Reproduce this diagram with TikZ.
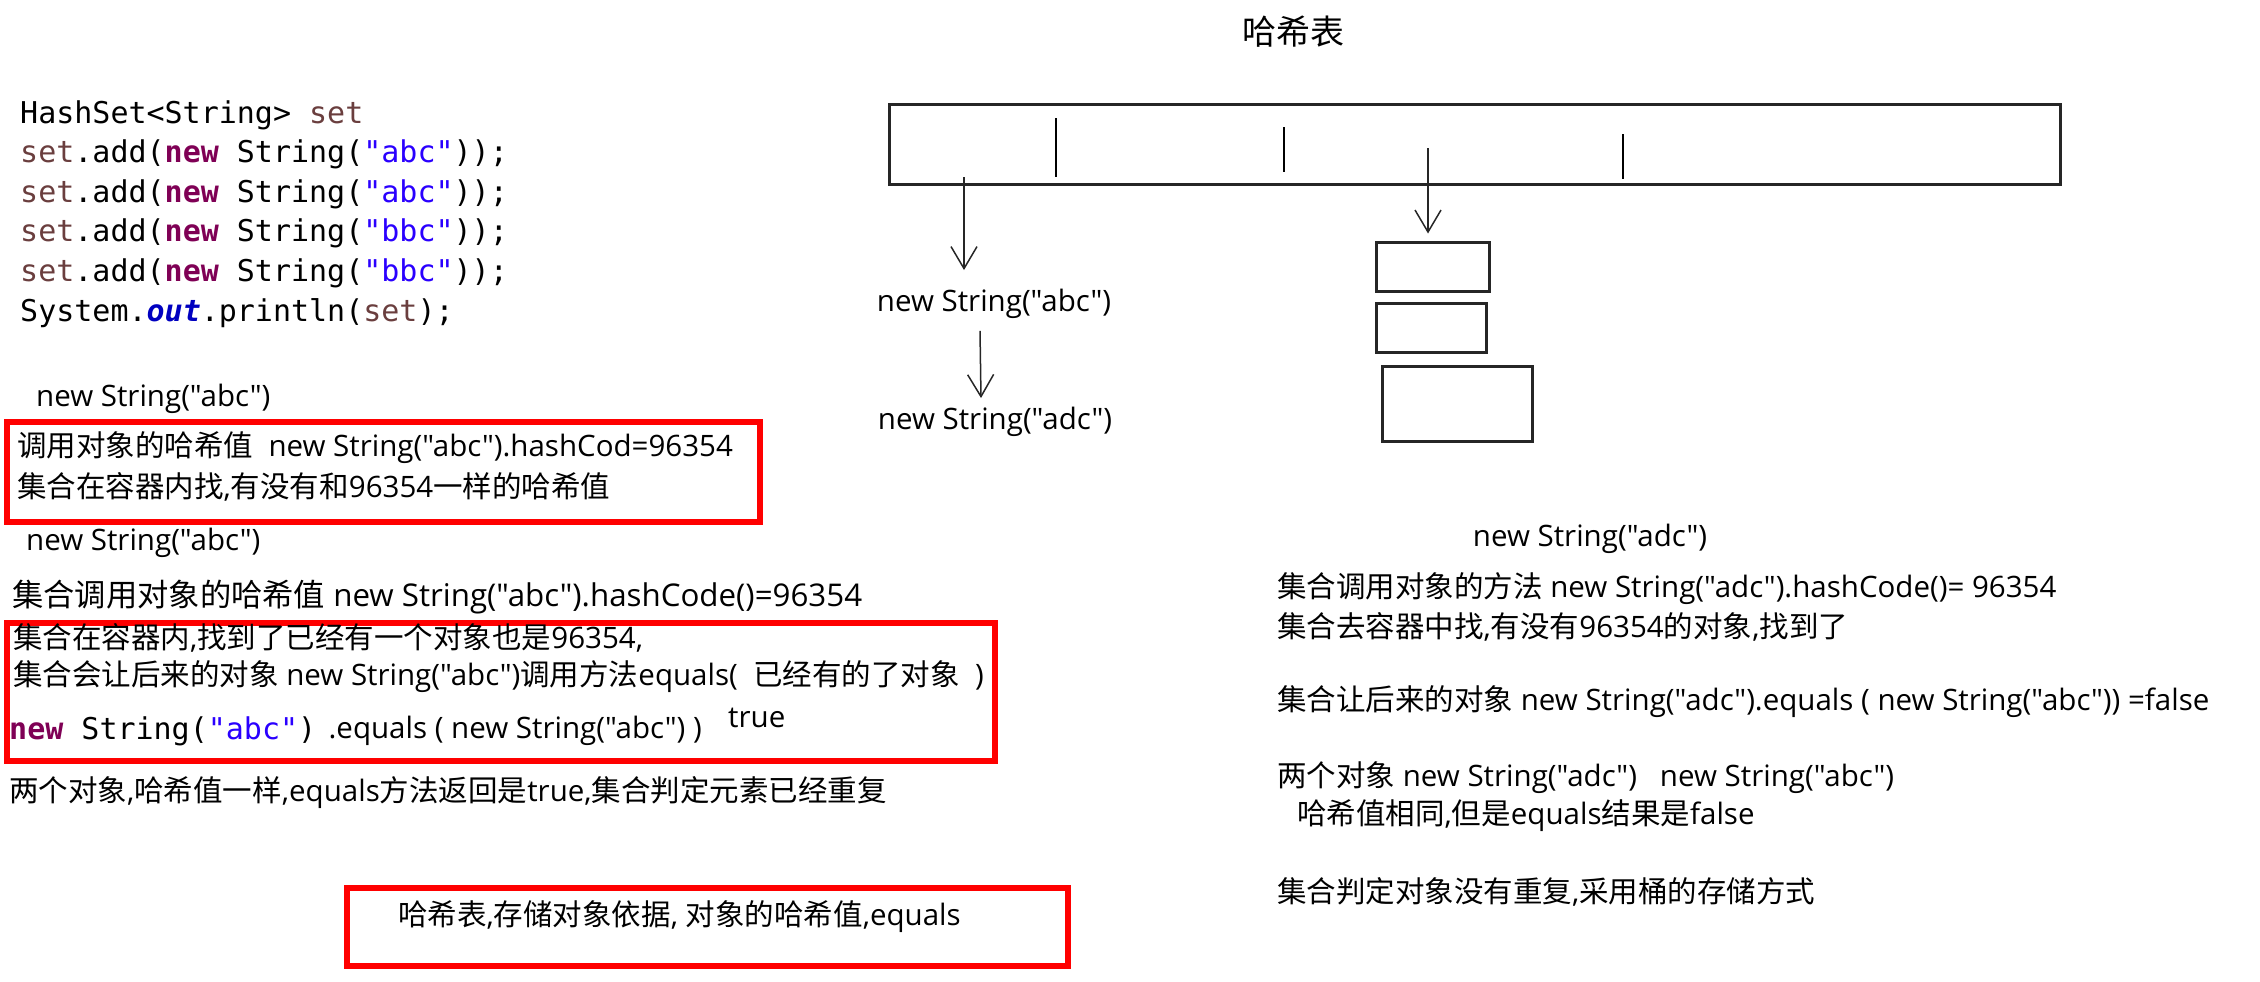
\documentclass[tikz,border=0pt]{standalone}
\usepackage{fontspec}
\setmainfont{Open Sans}[Ligatures=TeXOff]
\setmonofont{DejaVu Sans Mono}
\newfontfamily\zhfont{Noto Sans CJK SC}
\usetikzlibrary{arrows.meta,positioning}
\definecolor{kwpurple}{RGB}{127,0,85}
\definecolor{strblue}{RGB}{42,0,255}
\definecolor{varbrown}{RGB}{106,62,62}
\definecolor{fieldblue}{RGB}{0,0,192}
\definecolor{markred}{RGB}{255,0,0}
\newcommand\zh[1]{{\zhfont#1}}
\newcommand\jkw[1]{\textcolor{kwpurple}{\bfseries#1}}
\newcommand\jstr[1]{\textcolor{strblue}{#1}}
\newcommand\jvar[1]{\textcolor{varbrown}{#1}}
\newcommand\jfield[1]{\textcolor{fieldblue}{\bfseries\itshape#1}}

\begin{document}
\begin{tikzpicture}[x=1pt, y=-1pt,
  txt/.style={anchor=west, inner sep=0pt, font=\fontsize{29.5}{36}\selectfont},
  code/.style={anchor=west, inner sep=0pt, font=\ttfamily\fontsize{30}{36}\selectfont},
  redbox/.style={draw=markred, line width=6pt, inner sep=0pt},
  bucket/.style={draw=black!85, line width=3pt, inner sep=0pt},
  arr/.style={draw=black!85, line width=1.5pt, -{Straight Barb[length=22pt,width=26pt]}}]

\useasboundingbox (0,0) rectangle (2260,982);

\node[code] (c1) at (20,115) {HashSet<String> \jvar{set}};
\node[code] (c2) at (20,154) {\jvar{set}.add(\jkw{new} String(\jstr{"abc"}));};
\node[code] (c3) at (20,194) {\jvar{set}.add(\jkw{new} String(\jstr{"abc"}));};
\node[code] (c4) at (20,233) {\jvar{set}.add(\jkw{new} String(\jstr{"bbc"}));};
\node[code] (c5) at (20,273) {\jvar{set}.add(\jkw{new} String(\jstr{"bbc"}));};
\node[code] (c6) at (20,313) {System.\jfield{out}.println(\jvar{set});};

\node[txt] (o1) at (36,399) {new String("abc")};

\node[redbox, minimum width=753pt, minimum height=100pt] (box1) at (383.5,472) {};
\node[txt] (h1) at (17,448) {\zh{调用对象的哈希值}\ \ new String("abc").hashCod=96354};
\node[txt] (h2) at (17,487) {\zh{集合在容器内找},\zh{有没有和}96354\zh{一样的哈希值}};

\node[txt] (o2) at (26,543) {new String("abc")};

\node[txt, font=\fontsize{31.3}{38}\selectfont] (h3) at (12,597) {\zh{集合调用对象的哈希值} new String("abc").hashCode()=96354};

\node[redbox, minimum width=988pt, minimum height=138pt] (box2) at (501,692) {};
\node[txt] (h4) at (13,638) {\zh{集合在容器内},\zh{找到了已经有一个对象也是}96354,};
\node[txt] (h5) at (13,677) {\zh{集合会让后来的对象} new String("abc")\zh{调用方法}equals(\ \ \zh{已经有的了对象}\ \ )};
\node[code] (h6) at (9,731) {\jkw{new} String(\jstr{"abc"})};
\node[txt, right=12pt of h6] (h7) {.equals ( new String("abc") )};
\node[txt] (res) at (728,718) {true};

\node[txt] (h8) at (9,793) {\zh{两个对象},\zh{哈希值一样},equals\zh{方法返回是}true,\zh{集合判定元素已经重复}};

\node[redbox, minimum width=721pt, minimum height=78pt] (box3) at (707.5,927) {};
\node[txt] (sum) at (398,917) {\zh{哈希表},\zh{存储对象依据}, \zh{对象的哈希值},equals};

\node[inner sep=0pt, font=\zhfont\fontsize{34}{40}\selectfont] (title) at (1293,32) {哈希表};

\node[bucket, minimum width=1171pt, minimum height=80pt] (hashT) at (1474.5,144) {};
\draw[line width=1.5pt] (1056,118) -- (1056,177);
\draw[line width=1.5pt] (1284,127) -- (1284,172);
\draw[line width=1.5pt] (1623,134) -- (1623,179);
\coordinate (b1) at (964,177);
\coordinate (b2) at (1428,148);

\node[txt, anchor=center] (abcT) at (994,304) {new String("abc")};
\node[txt, anchor=center] (adcT) at (995,422) {new String("adc")};

\node[bucket, minimum width=113pt, minimum height=49pt] (bkA) at (1432.5,266.5) {};
\node[bucket, minimum width=110pt, minimum height=49pt] (bkB) at (1431,327.5) {};
\node[bucket, minimum width=150pt, minimum height=75pt] (bkC) at (1457,403.5) {};

\draw[arr, shorten >=19pt] (b1) -- (b1 |- abcT.north);
\draw[arr] ([xshift=-14pt,yshift=-12pt]abcT.south) -- ([xshift=-14pt,yshift=9pt]adcT.north);
\draw[arr, shorten >=7pt] (b2) -- (b2 |- bkA.north);

\node[txt, anchor=center] (adcN) at (1590,539) {new String("adc")};

\node[txt] (r1) at (1277,589) {\zh{集合调用对象的方法} new String("adc").hashCode()= 96354};
\node[txt] (r2) at (1277,627) {\zh{集合去容器中找},\zh{有没有}96354\zh{的对象},\zh{找到了}};
\node[txt] (r3) at (1277,702) {\zh{集合让后来的对象} new String("adc").equals ( new String("abc")) =false};
\node[txt] (r4) at (1277,778) {\zh{两个对象} new String("adc")\ \ \ new String("abc")};
\node[txt] (r5) at (1297,816) {\zh{哈希值相同},\zh{但是}equals\zh{结果是}false};
\node[txt] (r6) at (1277,892) {\zh{集合判定对象没有重复},\zh{采用桶的存储方式}};

\end{tikzpicture}
\end{document}
